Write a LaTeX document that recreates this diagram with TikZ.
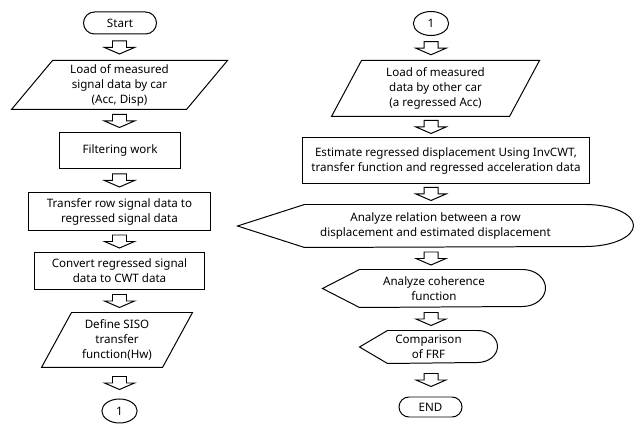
\documentclass[tikz,border=0pt]{standalone}
\usepackage{fontspec}
\setmainfont{Noto Sans}
\usetikzlibrary{shapes.geometric,shapes.misc,calc}

\tikzset{barrow/.pic={\draw[line join=miter] (-7,-6.5) -- (7,-6.5) -- (7,0) -- (15,0) -- (0,6.5) -- (-15,0) -- (-7,0) -- cycle;}}

\begin{document}
\begin{tikzpicture}[x=0.03cm,y=-0.03cm,line width=0.85pt,font=\fontsize{9.9}{12.8}\selectfont,
 term/.style={draw,rounded rectangle,inner sep=0pt},
 proc/.style={draw,inner sep=0pt,align=center},
 io/.style={inner sep=0pt,align=center},
 disp/.style={inner sep=0pt,align=center},
 conn/.style={draw,ellipse,inner sep=0pt,minimum width=1.06cm,minimum height=0.72cm}]
\useasboundingbox (0,0) rectangle (634,427);
% left column
\node[term,minimum width=2.19cm,minimum height=0.66cm] (st) at (120,23) {Start};
\node[io,minimum width=6.45cm,minimum height=1.44cm] (ld1) at (119.5,85) {Load of measured\\signal data by car\\(Acc, Disp)};
\node[proc,minimum width=3.6cm,minimum height=1.05cm] (fw) at (120,150.5) {Filtering work};
\node[proc,minimum width=5.43cm,minimum height=1.11cm] (tr) at (119.5,211.5) {Transfer row signal data to\\regressed signal data};
\node[proc,minimum width=5.07cm,minimum height=1.08cm] (cv) at (119.5,271) {Convert regressed signal\\data to CWT data};
\node[io,minimum width=4.5cm,minimum height=1.62cm] (df) at (117,340) {Define SISO\\transfer\\function(Hw)};
\node[conn] (c1) at (119.5,411) {1};
% right column
\node[conn] (c2) at (431,23.5) {1};
\node[io,minimum width=6.21cm,minimum height=1.65cm] (ld2) at (435.5,88.5) {Load of measured\\data by other car\\(a regressed Acc)};
\node[proc,minimum width=8.58cm,minimum height=1.35cm] (es) at (446,160.5) {Estimate regressed displacement Using InvCWT,\\transfer function and regressed acceleration data};
\node[disp,minimum width=11.85cm,minimum height=1.26cm] (ar) at (435.5,226) {Analyze relation between a row\\displacement and estimated displacement};
\node[disp,minimum width=6.66cm,minimum height=1.11cm] (co) at (434,288.5) {Analyze coherence\\function};
\node[disp,minimum width=4.11cm,minimum height=0.96cm] (cp) at (428.5,347) {Comparison\\of FRF};
\node[term,minimum width=1.89cm,minimum height=0.6cm] (en) at (430.5,407) {END};
% outlines
\draw ($(ld1.north west)+(41,0)$) -- (ld1.north east) -- ($(ld1.south east)-(41,0)$) -- (ld1.south west) -- cycle;
\draw ($(df.north west)+(30,0)$) -- (df.north east) -- ($(df.south east)-(30,0)$) -- (df.south west) -- cycle;
\draw ($(ld2.north west)+(30,0)$) -- (ld2.north east) -- ($(ld2.south east)-(30,0)$) -- (ld2.south west) -- cycle;
\draw (ar.west) -- ($(ar.north west)+(67,0)$) -- ($(ar.north east)-(48,0)$)
 arc[start angle=90,end angle=-90,x radius=1.44cm,y radius=0.63cm] -- ($(ar.south west)+(67,0)$) -- cycle;
\draw (co.west) -- ($(co.north west)+(37,0)$) -- ($(co.north east)-(23,0)$)
 arc[start angle=90,end angle=-90,x radius=0.69cm,y radius=0.555cm] -- ($(co.south west)+(37,0)$) -- cycle;
\draw (cp.west) -- ($(cp.north west)+(28,0)$) -- ($(cp.north east)-(20,0)$)
 arc[start angle=90,end angle=-90,x radius=0.6cm,y radius=0.48cm] -- ($(cp.south west)+(28,0)$) -- cycle;
% block arrows
\foreach \u/\v in {st/ld1,ld1/fw,fw/tr,tr/cv,cv/df,df/c1}{
 \coordinate (m) at ($(\u.south)!.5!(\v.north)$);
 \pic at (c1 |- m) {barrow};
}
\foreach \u/\v in {c2/ld2,ld2/es,es/ar,ar/co,co/cp,cp/en}{
 \coordinate (m) at ($(\u.south)!.5!(\v.north)$);
 \pic at (c2 |- m) {barrow};
}
\end{tikzpicture}
\end{document}
